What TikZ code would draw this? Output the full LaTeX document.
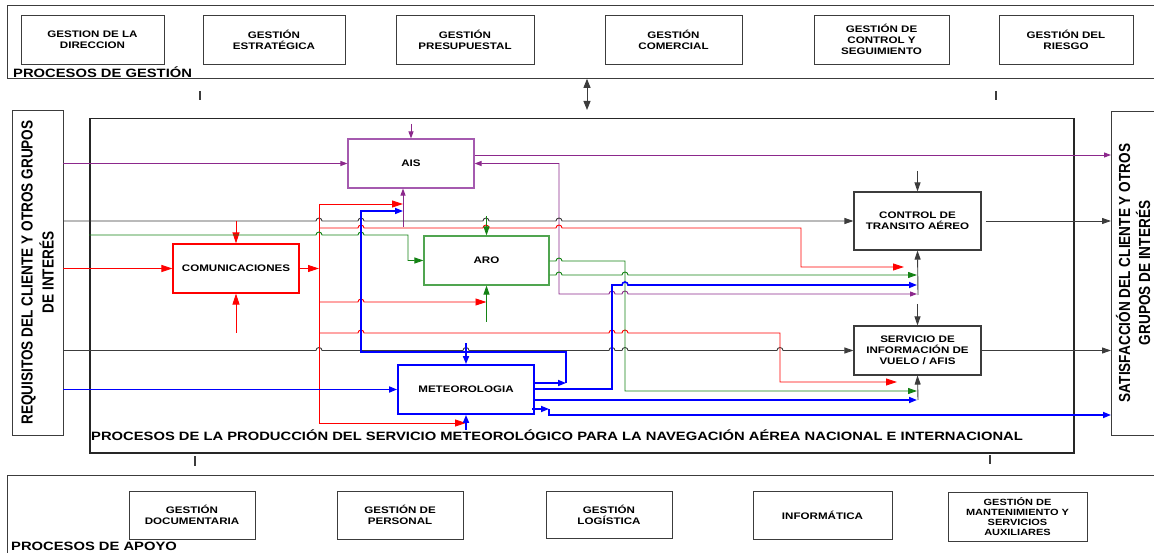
\documentclass[tikz,border=0pt]{standalone}
\usepackage{fontspec}
\setmainfont{Liberation Sans}[FakeStretch=1.22]
\newfontfamily\vertfont{Liberation Sans}[FakeStretch=0.85]
\usetikzlibrary{arrows.meta}

\definecolor{kgray}{RGB}{60,60,60}
\definecolor{pur}{RGB}{140,40,140}
\definecolor{purl}{RGB}{165,90,175}
\definecolor{grn}{RGB}{20,130,20}
\definecolor{grnl}{RGB}{80,165,80}
\definecolor{blu}{RGB}{0,0,255}
\definecolor{rd}{RGB}{255,0,0}

\newcommand{\hopover}[2]{-- (#1-3,#2) arc[start angle=180,end angle=0,radius=3pt]}

\begin{document}
\begin{tikzpicture}[x=1pt, y=-1pt,
	gbox/.style={draw=kgray, line width=0.8pt, minimum height=49pt, align=center, font=\fontsize{9.5}{11}\selectfont\bfseries},
	ibox/.style={draw, line width=1.1pt, minimum height=49pt, align=center, font=\fontsize{9.5}{11}\selectfont\bfseries},
	band/.style={draw=kgray, line width=0.8pt, anchor=north west, inner sep=0pt},
	title/.style={anchor=west, inner sep=0pt, font=\fontsize{12.1}{14}\selectfont\bfseries},
	side/.style={draw=kgray, line width=0.8pt, rotate=90, align=center, font=\vertfont\fontsize{16}{21}\selectfont\bfseries},
	sidetext/.style={rotate=90, align=center, inner sep=0pt, font=\vertfont\fontsize{16}{20}\selectfont\bfseries},
	kline/.style={draw=kgray, line width=0.9pt},
	rline/.style={draw=rd, line width=0.9pt},
	gline/.style={draw=grn, line width=0.9pt},
	bline/.style={draw=blu, line width=1.6pt},
	pline/.style={draw=pur, line width=0.9pt},
	kto/.style={kline, -{Triangle[length=9pt,width=6pt]}},
	rto/.style={rline, -{Triangle[length=11pt,width=7pt]}},
	gto/.style={gline, -{Triangle[length=9pt,width=6pt]}},
	bto/.style={bline, -{Triangle[length=8pt,width=6pt]}},
	pto/.style={pline, -{Triangle[length=7pt,width=5pt]}},
	tick/.style={draw=kgray, line width=1.6pt}]
	\useasboundingbox (0,0) rectangle (1154,553);

	\node[band, minimum width=1153pt, minimum height=73pt] (gest) at (7,5) {};
	\node[band, minimum width=1153pt, minimum height=100pt] (apoyo) at (7,475) {};
	\node[title] (gestlbl) at (13,72) {PROCESOS DE GESTIÓN};
	\node[title] (apoyolbl) at (11,546) {PROCESOS DE APOYO};

	\node[gbox, minimum width=143pt] (dir) at (92.5,39.5) {GESTION DE LA\\DIRECCION};
	\node[gbox, minimum width=142pt] (estr) at (274,39.5) {GESTIÓN\\ESTRATÉGICA};
	\node[gbox, minimum width=138pt] (pres) at (465,39.5) {GESTIÓN\\PRESUPUESTAL};
	\node[gbox, minimum width=137pt] (comer) at (673.5,39.5) {GESTIÓN\\COMERCIAL};
	\node[gbox, minimum width=135pt] (ctrl) at (881.5,39.5) {GESTIÓN DE\\CONTROL Y\\SEGUIMIENTO};
	\node[gbox, minimum width=134pt] (riesgo) at (1066,39.5) {GESTIÓN DEL\\RIESGO};

	\node[gbox, minimum width=126pt, minimum height=48pt] (docu) at (192,515) {GESTIÓN\\DOCUMENTARIA};
	\node[gbox, minimum width=126pt, minimum height=48pt] (pers) at (400,515) {GESTIÓN DE\\PERSONAL};
	\node[gbox, minimum width=126pt, minimum height=47pt] (logi) at (609,515) {GESTIÓN\\LOGÍSTICA};
	\node[gbox, minimum width=139pt, minimum height=48pt] (info) at (822.5,515) {INFORMÁTICA};
	\node[gbox, minimum width=139pt, minimum height=49pt, font=\fontsize{9}{10}\selectfont\bfseries] (mant) at (1017.5,516.5) {GESTIÓN DE\\MANTENIMIENTO Y\\SERVICIOS\\AUXILIARES};

	\node[band, line width=1.5pt, draw=black!85, minimum width=984pt, minimum height=334pt] (prod) at (89,118) {};
	\node[title] (prodlbl) at (91,435) {PROCESOS DE LA PRODUCCIÓN DEL SERVICIO METEOROLÓGICO PARA LA NAVEGACIÓN AÉREA NACIONAL E INTERNACIONAL};

	\node[side, minimum width=325pt, minimum height=51pt] (req) at (37.5,272.5) {REQUISITOS DEL CLIENTE Y OTROS GRUPOS\\DE INTERÉS};
	\node[band, minimum width=60pt, minimum height=324pt] (sat) at (1111,111) {};
	\node[sidetext] (sattxt) at (1133,273) {SATISFACCIÓN DEL CLIENTE Y OTROS\\GRUPOS DE INTERÉS};

	\node[ibox, draw=purl, minimum width=126pt] (ais) at (411,163.5) {AIS};
	\node[ibox, draw=rd, minimum width=126pt] (com) at (236,268.5) {COMUNICACIONES};
	\node[ibox, draw=grnl, minimum width=125pt] (aro) at (486.5,260.5) {ARO};
	\node[ibox, draw=blu, line width=1.8pt, minimum width=136pt] (met) at (466,389.5) {METEOROLOGIA};
	\node[ibox, draw=kgray, minimum width=127pt, minimum height=58pt] (cta) at (917.5,221) {CONTROL DE\\TRANSITO AÉREO};
	\node[ibox, draw=kgray, minimum width=127pt] (siv) at (917.5,350.5) {SERVICIO DE\\INFORMACIÓN DE\\VUELO / AFIS};

	\draw[kline, {Triangle[length=9pt,width=7pt]}-{Triangle[length=9pt,width=7pt]}] (gest.south -| 587,0) -- (587,110);
	\draw[tick] (200,91) -- (200,100);
	\draw[tick] (996,91) -- (996,100);
	\draw[tick] (195,456) -- (195,466);
	\draw[tick] (990,455) -- (990,464);

	\draw[pto] (req.south |- ais.west) -- (ais.west);
	\draw[pto] (411,124) -- (ais.north);
	\draw[pto] (403,227) -- (ais.south -| 403,0);
	\draw[pto] (ais.east |- 0,155) -- (sat.west |- 0,155);
	\draw[pline, {Triangle[length=7pt,width=5pt]}-{Triangle[length=7pt,width=5pt]}] (ais.east) -- (559,163.5) -- (559,294) \hopover{612}{294} \hopover{625}{294} -- (917,294);

	\draw[kto] (req.south |- cta.west) \hopover{319}{221} \hopover{361}{221} \hopover{486}{221} \hopover{559}{221} -- (cta.west);
	\draw[kto] (req.south |- siv.west) \hopover{319}{350.5} \hopover{466}{350.5} \hopover{612}{350.5} \hopover{625}{350.5} \hopover{780}{350.5} -- (siv.west);
	\draw[kto] ([xshift=4pt]cta.east) -- (sat.west |- cta.east);
	\draw[kto] (siv.east) -- (sat.west |- siv.east);
	\draw[kto] (917.5,171) -- (cta.north);
	\draw[kto] (918,295) -- (cta.south);
	\draw[kto] (917.5,304) -- (siv.north);
	\draw[kto] (918,400) -- (siv.south);

	\draw[rto] (req.south |- com.west) -- (com.west);
	\draw[rto] (236,221) -- (com.north);
	\draw[rto] (236,333) -- (com.south);
	\draw[rto] (com.east) -- (319,268.5);
	\draw[rline] (319,204) -- (319,423);
	\draw[rto] (319,204) -- (403,204);
	\draw[rto] (319,228) \hopover{361}{228} \hopover{486}{228} \hopover{559}{228} -- (801,228) -- (801,267) -- (904,267);
	\draw[rto] (319,302) \hopover{361}{302} -- (aro.south |- 0,302);
	\draw[rto] (319,333) \hopover{361}{333} \hopover{612}{333} \hopover{625}{333} -- (780,333) -- (780,382) -- (897,382);
	\draw[rto] (319,423) -- (met.south |- 0,423);

	\draw[gto] (prod.west |- 0,235) \hopover{319}{235} \hopover{361}{235} -- (408,235) -- (408,260.5) -- (aro.west);
	\draw[gto] (486.5,216) -- (aro.north);
	\draw[gto] (486.5,322) -- (aro.south);
	\draw[gto] (aro.east |- 0,261) \hopover{559}{261} -- (625,261) -- (625,391) -- (917,391);
	\draw[gto] (aro.east |- 0,275) \hopover{559}{275} \hopover{625}{275} -- (917,275);

	\draw[bto] (req.south |- met.west) -- (met.west);
	\draw[bto] (466,343) -- (met.north);
	\draw[bto] (466,430) -- (met.south);
	\draw[bto] (met.east |- 0,383) -- (566,383);
	\draw[bto] (566,383) -- (566,352) -- (361,352) -- (361,211) -- (403,211);
	\draw[bto] (met.east |- 0,389) -- (612,389) -- (612,285) \hopover{625}{285} -- (917,285);
	\draw[bto] (met.east |- 0,400) -- (917,400);
	\draw[bto] (532,409) -- (549,409);
	\draw[bto] (549,409) -- (549,415) -- (sat.west |- 0,415);
\end{tikzpicture}
\end{document}
